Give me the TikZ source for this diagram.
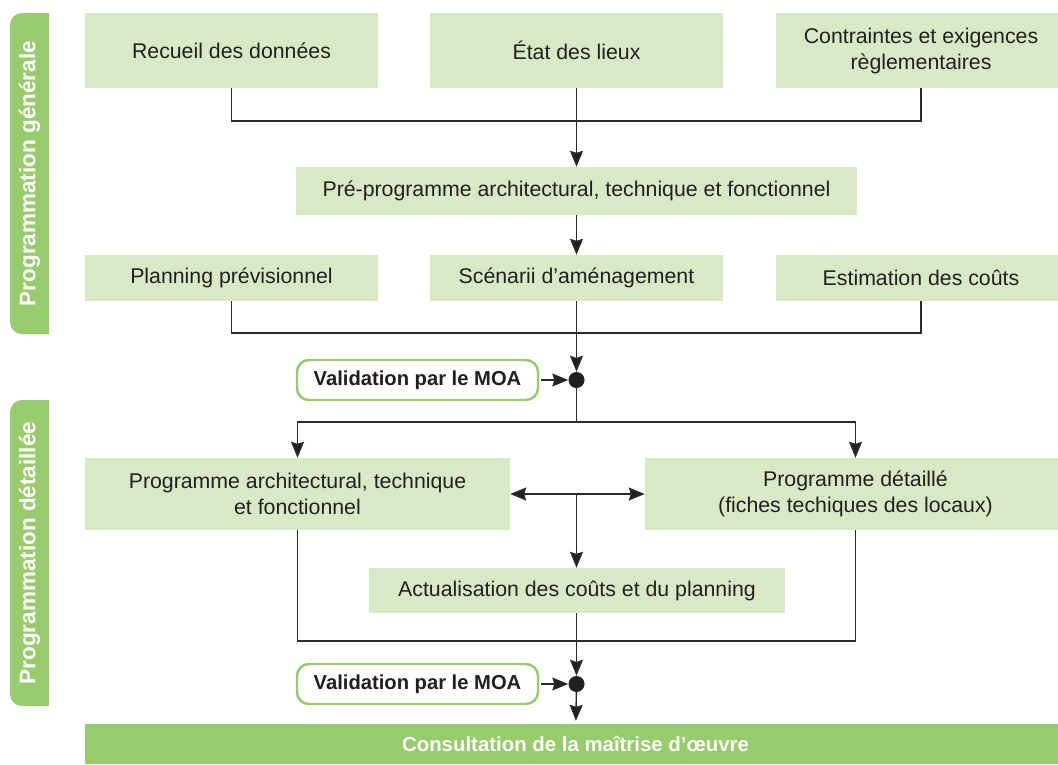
\documentclass[tikz,border=0pt]{standalone}
\usepackage{fontspec}
\setmainfont{Liberation Sans}
\usetikzlibrary{arrows.meta}
\definecolor{boxgreen}{HTML}{D9E9C5}
\definecolor{bargreen}{HTML}{98CB6B}
\definecolor{ink}{HTML}{231F20}
\definecolor{wire}{HTML}{2B2B2B}
\begin{document}
\begin{tikzpicture}[x=1pt,y=-1pt,
  box/.style={fill=boxgreen, draw=none, text=ink, align=center, inner sep=0pt,
    font=\fontsize{21.3}{26}\selectfont},
  valbox/.style={draw=bargreen, line width=2.4pt, rounded corners=12pt, fill=white,
    text=ink, inner sep=0pt, minimum width=241pt, minimum height=40pt,
    font=\bfseries\fontsize{20.2}{24}\selectfont},
  jdot/.style={circle, fill=ink, inner sep=0pt, minimum size=16pt},
  sidelabel/.style={rotate=90, text=white, font=\bfseries\fontsize{22.5}{26}\selectfont},
  wireline/.style={draw=wire, line width=1.4pt},
  arr/.style={wireline, -{Stealth[length=16pt,width=13pt,inset=2pt,fill=ink]}}
]
\clip (0,0) rectangle (1058,764);
\fill[white] (0,0) rectangle (1058,764);

% side bands, rounded on the left only
\begin{scope}
  \clip (0,0) rectangle (49,764);
  \fill[bargreen, rounded corners=12pt] (10,13) rectangle (80,334);
  \fill[bargreen, rounded corners=12pt] (10,400) rectangle (80,706);
\end{scope}
\node[sidelabel] (phase1) at (29.5,173.5) {Programmation générale};
\node[sidelabel] (phase2) at (29.5,553) {Programmation détaillée};

% first row
\node[box, minimum width=293pt, minimum height=75pt] (recueil) at (231.5,50.5) {Recueil des données};
\node[box, minimum width=293pt, minimum height=75pt] (etat) at (576.5,50.5) {État des lieux};
\node[box, minimum width=290pt, minimum height=75pt] (contr) at (921,50.5) {Contraintes et exigences\\règlementaires};

\node[box, minimum width=561pt, minimum height=48pt] (pre) at (576.5,191) {Pré-programme architectural, technique et fonctionnel};

% second row
\node[box, minimum width=293pt, minimum height=46pt] (planning) at (231.5,278) {Planning prévisionnel};
\node[box, minimum width=293pt, minimum height=46pt] (scen) at (576.5,278) {Scénarii d’aménagement};
\node[box, minimum width=290pt, minimum height=46pt] (estim) at (921,278) {Estimation des coûts};

% first validation
\node[valbox] (val1) at (417.5,380) {Validation par le MOA};
\node[jdot] (dot1) at (576.5,380) {};

% detailed programme
\node[box, minimum width=425pt, minimum height=72pt] (parch) at (297.5,494) {Programme architectural, technique\\et fonctionnel};
\node[box, minimum width=421pt, minimum height=72pt] (pdet) at (855.5,494) {Programme détaillé\\(fiches techiques des locaux)};
\node[box, minimum width=416pt, minimum height=45pt] (actu) at (577,590.5) {Actualisation des coûts et du planning};

% second validation
\node[valbox] (val2) at (417.5,684) {Validation par le MOA};
\node[jdot] (dot2) at (576.5,684) {};

% final stage
\node[fill=bargreen, inner sep=0pt, minimum width=981pt, minimum height=40pt, text=white,
  font=\bfseries\fontsize{20.4}{24}\selectfont] (final) at (575.5,744) {Consultation de la maîtrise d’œuvre};

% junction points
\coordinate (j1) at (576.5,121);
\coordinate (j2) at (576.5,333);
\coordinate (j3) at (576.5,422);
\coordinate (j4) at (576.5,494);
\coordinate (j5) at (576.5,641);

% connectors
\draw[wireline] (recueil) |- (j1) -| (contr);
\draw[arr] (etat) -- (pre);
\draw[arr] (pre) -- (scen);
\draw[wireline] (planning) |- (j2) -| (estim);
\draw[arr] (scen) -- (dot1);
\draw[arr, shorten <=2pt] (val1) -- (dot1);
\draw[wireline] (dot1) -- (j3);
\draw[arr] (j3) -| (parch);
\draw[arr] (j3) -| (pdet);
\draw[arr] (j4) -- (parch);
\draw[arr] (j4) -- (pdet);
\draw[arr] (j4) -- (j4 |- actu.north);
\draw[wireline] (parch) |- (j5) -| (pdet);
\draw[arr] (dot2 |- actu.south) -- (dot2);
\draw[arr, shorten <=2pt] (val2) -- (dot2);
\draw[arr, shorten >=3pt] (dot2) -- (final);
\end{tikzpicture}
\end{document}
